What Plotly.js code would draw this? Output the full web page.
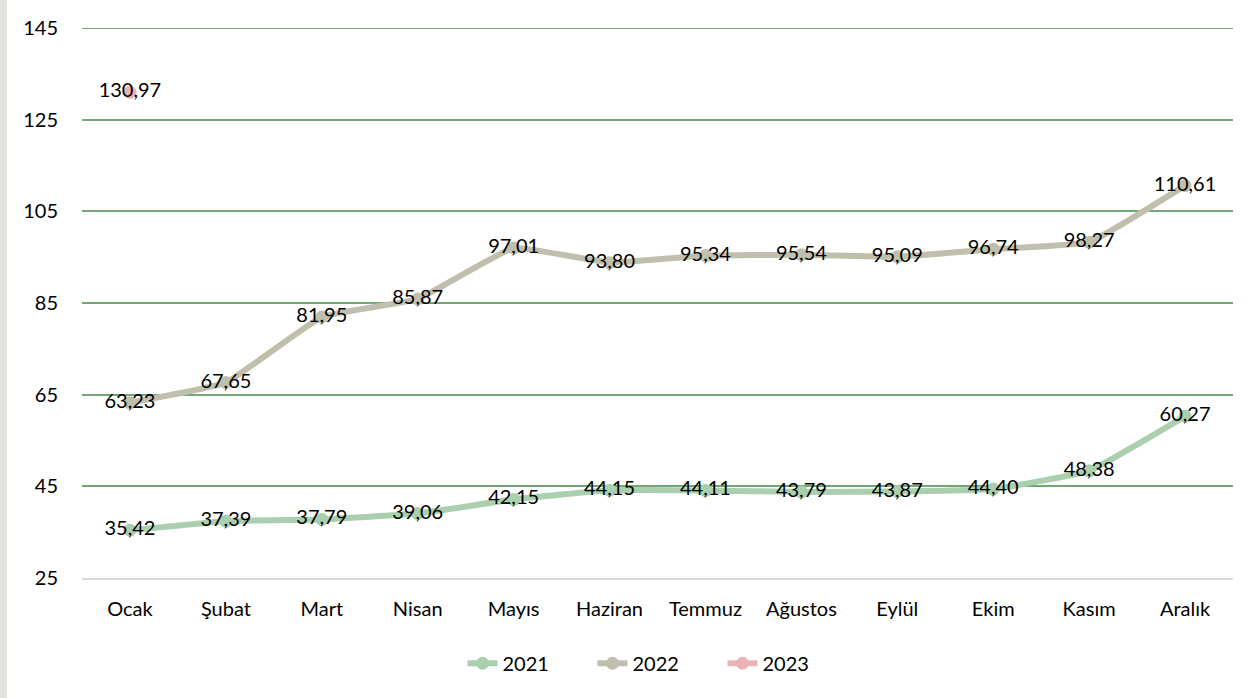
<!DOCTYPE html>
<html><head><meta charset="utf-8">
<script src="https://cdn.plot.ly/plotly-3.0.1.min.js"></script>
<style>html,body{margin:0;padding:0;background:#fff}#c{width:1260px;height:698px;border-left:7px solid #e2e2de;box-sizing:border-box}</style>
</head><body><div id="c"></div>
<script>
const months = ["Ocak","Şubat","Mart","Nisan","Mayıs","Haziran","Temmuz","Ağustos","Eylül","Ekim","Kasım","Aralık"];
const v2021 = [35.42,37.39,37.79,39.06,42.15,44.15,44.11,43.79,43.87,44.40,48.38,60.27];
const v2022 = [63.23,67.65,81.95,85.87,97.01,93.80,95.34,95.54,95.09,96.74,98.27,110.61];
const v2023 = [130.97];
const names = ["2021","2022","2023"];
const colors = ["#A9CFAE","#C0BFAD","#EBB4B4"];
const yTicks = [25,45,65,85,105,125,145];
const fmt = v => v.toFixed(2).replace('.', ',');
const series = [v2021, v2022, v2023];
const traces = series.map((s,i)=>({
  x: months.slice(0, s.length), y: s, name: names[i], type:'scatter', mode:'lines+markers+text',
  line:{color:colors[i], width:6, shape:'spline', smoothing:0.3},
  marker:{color:colors[i], size:13},
  text: s.map(fmt), textposition:'middle center',
  textfont:{family:'Lato, "Open Sans", sans-serif', size:20, color:'#000'},
  cliponaxis:false
}));
Plotly.newPlot('c', traces, {
  width:1253, height:698,
  margin:{l:75, r:27, t:28, b:120},
  paper_bgcolor:'#fff', plot_bgcolor:'#fff',
  font:{family:'Lato, "Open Sans", sans-serif', size:20, color:'#000'},
  xaxis:{type:'category', range:[-0.5,11.5], autorange:false, showgrid:false, showline:true, linecolor:'#d9d9d9', linewidth:2,
    ticks:'outside', ticklen:12, tickcolor:'rgba(0,0,0,0)', tickfont:{size:20}, zeroline:false},
  yaxis:{range:[25,145], autorange:false, tickvals:yTicks, gridcolor:'#72A672', gridwidth:2,
    showline:false, zeroline:false, ticks:'outside', ticklen:19, tickcolor:'rgba(0,0,0,0)', tickfont:{size:20}},
  shapes:[{type:'line', xref:'paper', x0:0, x1:1, yref:'y', y0:yTicks[yTicks.length-1], y1:yTicks[yTicks.length-1],
    line:{color:'#72A672', width:2}, layer:'below'}],
  showlegend:true,
  legend:{orientation:'h', x:0.5, xanchor:'center', y:-0.155, yanchor:'middle', font:{size:20}, entrywidth:85, entrywidthmode:'pixels'},
}, {staticPlot:true});
</script></body></html>
